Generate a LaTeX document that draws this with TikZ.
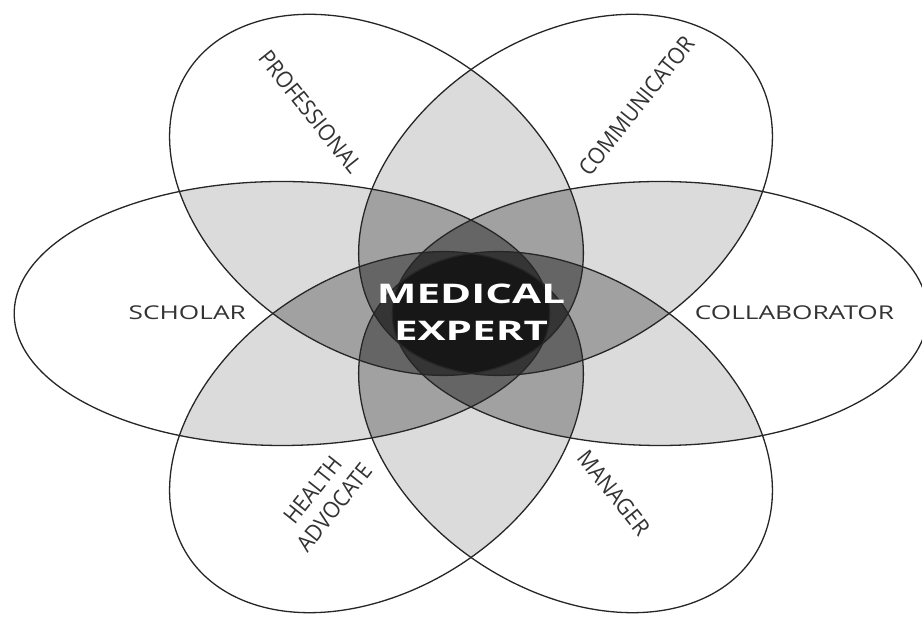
\documentclass[tikz,border=0pt]{standalone}
\usepackage{fontspec}
\setmainfont{Open Sans}
\begin{document}
\begin{tikzpicture}[x=1pt,y=1pt,
  outline/.style={draw=black!85, line width=1.3pt},
  lbl/.style={inner sep=0pt, text=black!80, font=\fontsize{19}{23}\selectfont},
  hlbl/.style={lbl, xscale=1.38},
  tlbl/.style={lbl, rotate=#1, xscale=1.107, yscale=1.2},
  centerlbl/.style={inner sep=0pt, text=white, align=center, xscale=1.56, font=\fontsize{27}{37}\bfseries\selectfont}]
\useasboundingbox (0,0) rectangle (922,618);
\fill[white] (0,0) rectangle (922,618);
\def\ea{194}\def\eb{132}\def\ed{137}
\def\elist{1/0,2/180,3/60,4/120,5/240,6/300}
\begin{scope}[shift={(471,304.5)}, xscale=1.38]
  \foreach \i/\ai in \elist {
    \foreach \j/\aj in \elist {
      \ifnum\i<\j\relax
        \begin{scope}
          \clip[rotate=\ai] (\ed,0) ellipse ({\ea} and {\eb});
          \fill[black, fill opacity=0.14, rotate=\aj] (\ed,0) ellipse ({\ea} and {\eb});
        \end{scope}
      \fi
    }
  }
  \foreach \i/\ai in \elist {
    \draw[outline, rotate=\ai] (\ed,0) ellipse ({\ea} and {\eb});
  }
  \node[hlbl, anchor=east] (scholar) at (-163,0.5) {SCHOLAR};
  \node[hlbl, anchor=west] (collab) at (162,0.5) {COLLABORATOR};
  \node[tlbl=51.5, anchor=west] (comm) at (60:163) {COMMUNICATOR};
  \node[tlbl=-51.5, anchor=east] (prof) at (120:165) {PROFESSIONAL};
  \node[tlbl=51.5, align=center] (health) at (240:214) {HEALTH\\ADVOCATE};
  \node[tlbl=-51.5, anchor=west] (manager) at (300:161) {MANAGER};
  \node[centerlbl] (med) at (0,1.5) {MEDICAL\\EXPERT};
\end{scope}
\end{tikzpicture}
\end{document}
